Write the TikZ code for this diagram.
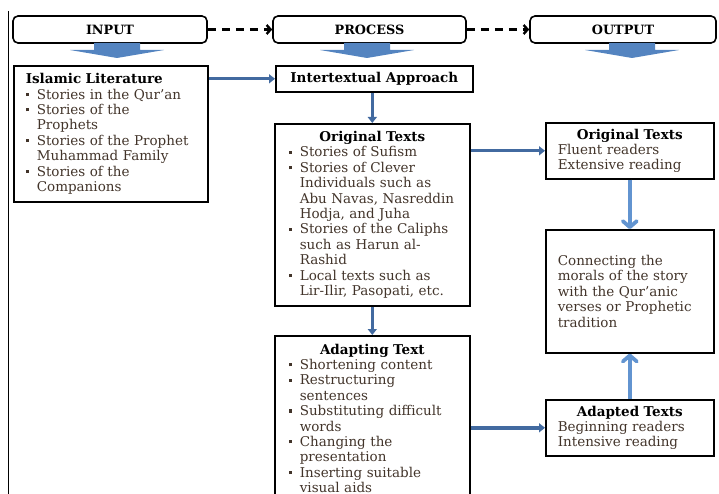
\documentclass[tikz,border=0pt]{standalone}
\usepackage{fontspec}
\setmainfont{DejaVu Serif}
\usepackage{xcolor}
\usepackage{tikz}
\usetikzlibrary{arrows.meta}
\definecolor{txtcol}{RGB}{66,52,42}
\definecolor{fatblue}{RGB}{84,132,192}
\definecolor{linkblue}{RGB}{66,106,160}
\definecolor{upblue}{RGB}{98,148,208}
\newcommand{\bul}{\makebox[11pt][l]{\rule[3pt]{3.2pt}{3.2pt}}}
\newcommand{\ind}{\hspace*{11pt}}
\tikzset{
    header/.style={draw, rounded corners=5pt, line width=1.6pt, minimum height=27pt, inner sep=0pt,
        font=\fontsize{12.8}{14}\selectfont\bfseries},
    box/.style={draw, line width=1.6pt, anchor=north west, align=left, inner ysep=0pt,
        font=\fontsize{13.5}{15.4}\selectfont, text=txtcol},
    link/.style={draw=linkblue, line width=3.4pt, -{Triangle[length=6pt,width=9pt]}},
    uplink/.style={draw=upblue, line width=3.8pt, -{Straight Barb[length=6pt,width=14pt,round]}},
    dashlink/.style={draw, line width=2.4pt, dash pattern=on 8pt off 6pt, -{Straight Barb[length=4pt,width=9pt]}}}

\begin{document}
\begin{tikzpicture}[x=1pt,y=-1pt]
\useasboundingbox (0,0) rectangle (719,494);
\clip (0,0) rectangle (719,494);
\draw[line width=1pt] (8,11) -- (8,494);

% header row
\node[header, minimum width=194pt] (inp) at (110,29.5) {INPUT};
\node[header, minimum width=193pt] (proc) at (369.5,29.5) {PROCESS};
\node[header, minimum width=186pt] (outp) at (623,29.5) {OUTPUT};
\draw[dashlink] (inp.east) -- (proc.west);
\draw[dashlink] (proc.east) -- (outp.west);
\foreach \x in {117,367,632}
  \fill[fatblue] (\x-23,43) -- (\x+23,43) -- (\x+23,50) -- (\x+47,50) -- (\x,58)
     -- (\x-47,50) -- (\x-23,50) -- cycle;

% input
\node[box, inner xsep=12pt, text width=170pt, minimum height=136pt] (lit) at (13,65)
  {\textcolor{black}{\bfseries Islamic Literature}\\
   \bul Stories in the Qur'an\\
   \bul Stories of the\\
   \ind Prophets\\
   \bul Stories of the Prophet\\
   \ind Muhammad Family\\
   \bul Stories of the\\
   \ind Companions};

% process
\node[box, align=center, text=black, font=\fontsize{13.5}{15}\selectfont\bfseries,
  minimum width=197pt, minimum height=26pt, inner xsep=0pt] (inter) at (275,65) {Intertextual Approach};
\node[box, inner xsep=14pt, text width=167pt, minimum height=182pt] (orig) at (274,123)
  {\makebox[\linewidth][c]{\color{black}\bfseries Original Texts}\\
   \bul Stories of Sufism\\
   \bul Stories of Clever\\
   \ind Individuals such as\\
   \ind Abu Navas, Nasreddin\\
   \ind Hodja, and Juha\\
   \bul Stories of the Caliphs\\
   \ind such as Harun al-\\
   \ind Rashid\\
   \bul Local texts such as\\
   \ind Lir-Ilir, Pasopati, etc.};
\node[box, inner xsep=14pt, text width=167pt, minimum height=165pt] (adapt) at (274,335)
  {\makebox[\linewidth][c]{\color{black}\bfseries Adapting Text}\\
   \bul Shortening content\\
   \bul Restructuring\\
   \ind sentences\\
   \bul Substituting difficult\\
   \ind words\\
   \bul Changing the\\
   \ind presentation\\
   \bul Inserting suitable\\
   \ind visual aids};

% output
\node[box, inner xsep=12pt, text width=144pt, minimum height=56pt] (origout) at (545,122)
  {\makebox[\linewidth][c]{\color{black}\bfseries Original Texts}\\
   Fluent readers\\
   Extensive reading};
\node[box, inner xsep=12pt, text width=144pt, minimum height=123pt] (connect) at (545,229)
  {Connecting the\\
   morals of the story\\
   with the Qur'anic\\
   verses or Prophetic\\
   tradition};
\node[box, inner xsep=12pt, text width=144pt, minimum height=56pt] (adaptout) at (545,399)
  {\makebox[\linewidth][c]{\color{black}\bfseries Adapted Texts}\\
   Beginning readers\\
   Intensive reading};

% connectors
\draw[link] (inter.west -| lit.east) -- (inter.west);
\draw[link] (inter.south -| orig.north) -- (orig.north);
\draw[link] (orig.south) -- (adapt.north);
\draw[link] (orig.east |- origout.west) -- (origout.west);
\draw[link] (adapt.east |- adaptout.west) -- (adaptout.west);
\draw[uplink] (origout.south) -- (connect.north);
\draw[uplink] (adaptout.north) -- (connect.south);
\end{tikzpicture}
\end{document}
